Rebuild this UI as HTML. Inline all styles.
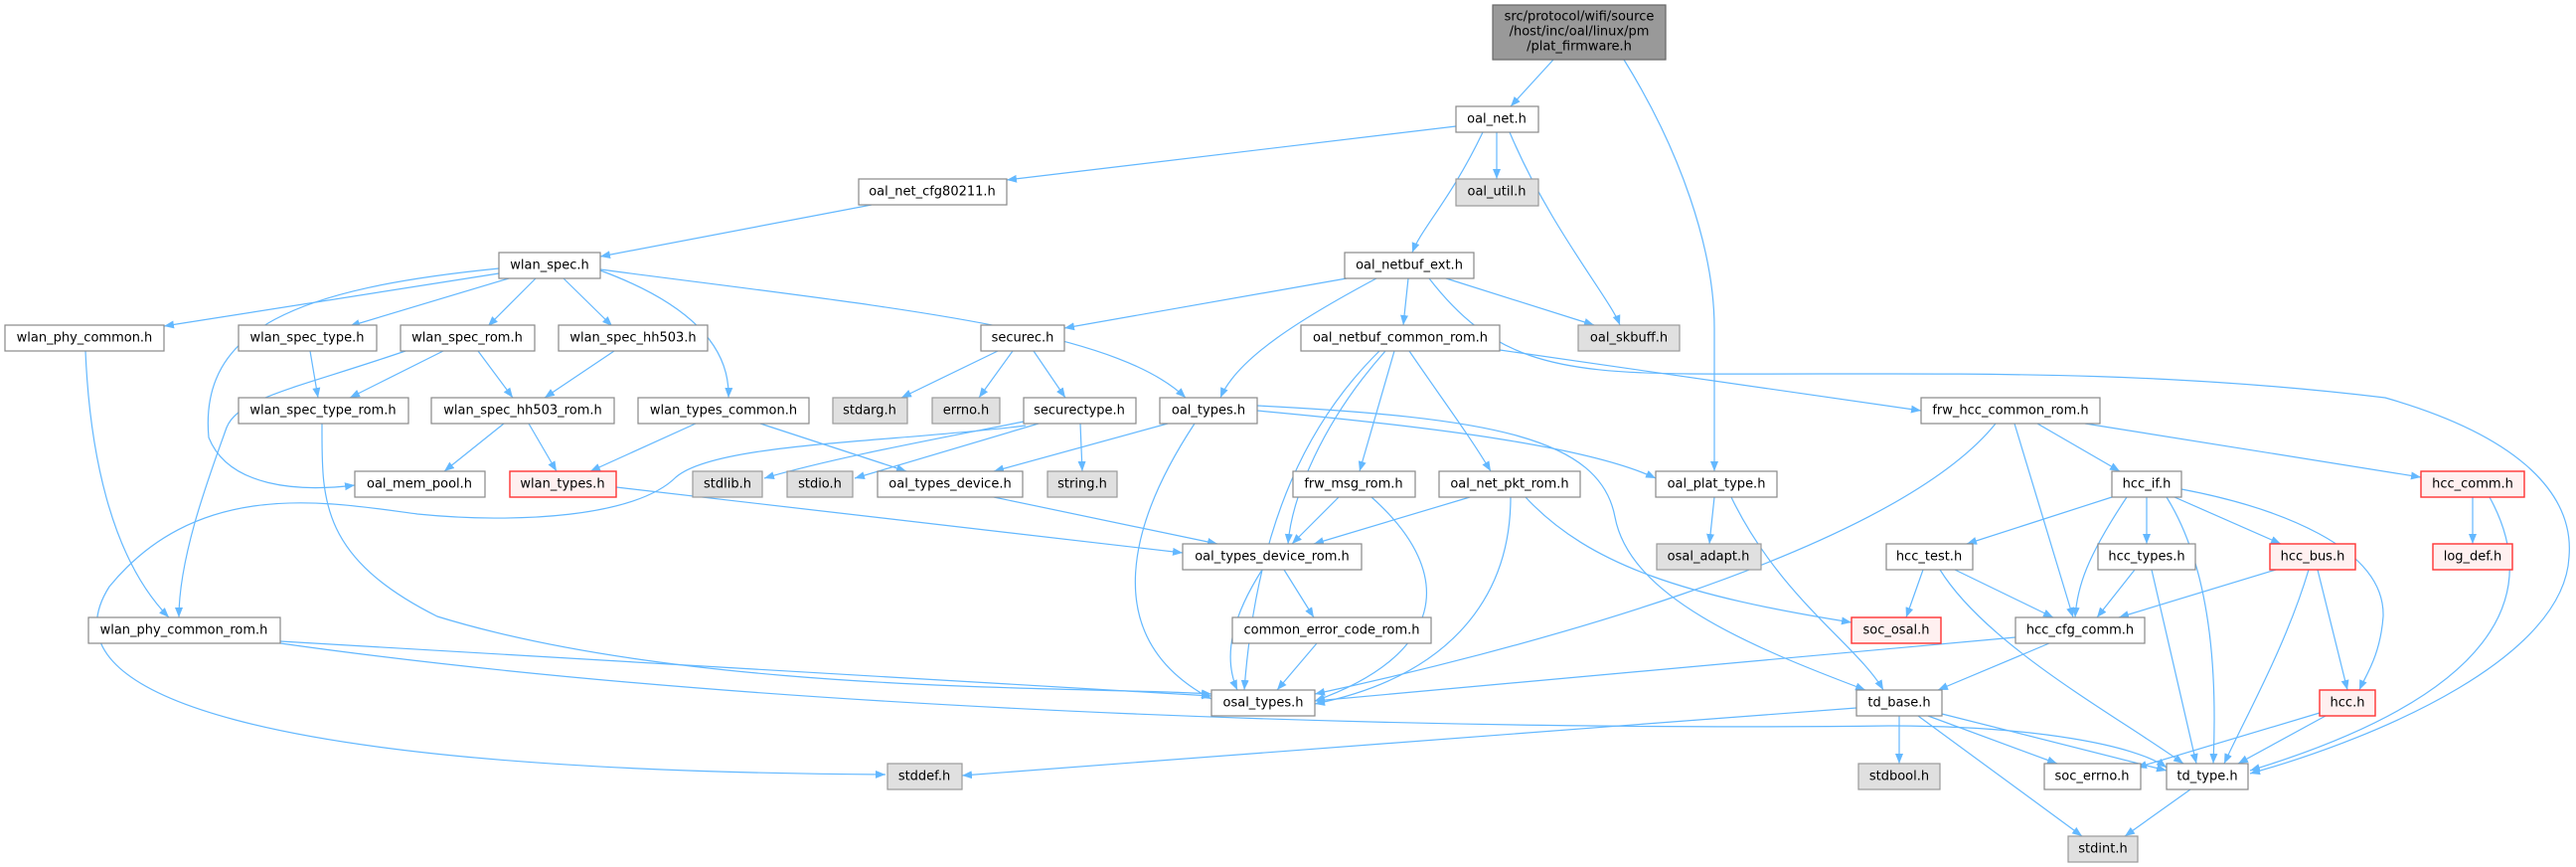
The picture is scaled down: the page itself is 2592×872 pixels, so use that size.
<!DOCTYPE html>
<html><head><meta charset="utf-8">
<style>
html,body{margin:0;padding:0;background:#fff;width:2592px;height:872px;overflow:hidden}
svg{display:block}
text{font-family:"DejaVu Sans","Liberation Sans",sans-serif;font-size:13px;fill:#000;text-anchor:middle;dominant-baseline:central}
.n{fill:#fff;stroke:#888;stroke-width:1.2}
.g{fill:#e0e0e0;stroke:#999;stroke-width:1.2}
.r{fill:#fff0f0;stroke:#f33;stroke-width:1.4}
.root{fill:#999;stroke:#666;stroke-width:1.2}
path.e{fill:none;stroke:#63b8ff;stroke-width:1.2}
</style></head><body>
<svg width="2592" height="872" viewBox="0 0 2592 872" xmlns="http://www.w3.org/2000/svg">
<defs><marker id="a" markerUnits="userSpaceOnUse" markerWidth="11" markerHeight="9" refX="10" refY="4" orient="auto"><path d="M0,0 L10,4 L0,8 z" fill="#63b8ff"/></marker></defs>
<g marker-end="url(#a)">
<path class="e" d="M1563,60 L1520,107"/>
<path class="e" d="M1634,60 C1690,150 1725,250 1725,330 L1725,474"/>
<path class="e" d="M1465,127 L1013,181"/>
<path class="e" d="M1506,133 L1506,180"/>
<path class="e" d="M1492,133 C1460,200 1430,230 1421,254"/>
<path class="e" d="M1519,133 C1560,230 1620,300 1630,327"/>
<path class="e" d="M877,206 L604,258"/>
<path class="e" d="M502,275 L165,328"/>
<path class="e" d="M512,280 L352,328"/>
<path class="e" d="M539,280 L491,328"/>
<path class="e" d="M567,280 L616,328"/>
<path class="e" d="M604,272 C680,300 735,340 733,400"/>
<path class="e" d="M604,271 C900,310 1120,330 1193,400"/>
<path class="e" d="M502,270 C300,290 200,330 210,440 C230,490 300,495 357,488"/>
<path class="e" d="M86,353 C90,450 110,560 170,621"/>
<path class="e" d="M312,353 L320,400"/>
<path class="e" d="M446,353 L352,400"/>
<path class="e" d="M481,353 L516,400"/>
<path class="e" d="M408,353 C300,390 240,400 228,430 C210,480 180,560 180,621"/>
<path class="e" d="M618,353 L548,400"/>
<path class="e" d="M324,426 C324,500 320,560 440,620 C700,700 1100,690 1219,698"/>
<path class="e" d="M507,426 L447,474"/>
<path class="e" d="M532,426 L560,474"/>
<path class="e" d="M700,426 L594,474"/>
<path class="e" d="M765,426 L912,474"/>
<path class="e" d="M1004,353 L907,400"/>
<path class="e" d="M1019,353 L985,400"/>
<path class="e" d="M1040,353 L1072,400"/>
<path class="e" d="M1030,424 C950,440 840,460 769,481"/>
<path class="e" d="M1045,426 L860,481"/>
<path class="e" d="M1087,426 L1089,474"/>
<path class="e" d="M1032,428 C900,445 720,445 680,480 C640,520 520,527 420,517 C330,505 200,480 110,590 C40,700 260,775 891,779"/>
<path class="e" d="M1175,426 L1000,474"/>
<path class="e" d="M1202,426 C1140,520 1100,640 1219,703"/>
<path class="e" d="M1265,413 C1450,430 1600,450 1666,481"/>
<path class="e" d="M1265,408 C1500,420 1610,440 1625,520 C1640,600 1760,650 1877,694"/>
<path class="e" d="M1355,280 L1071,330"/>
<path class="e" d="M1385,280 C1310,320 1245,360 1228,400"/>
<path class="e" d="M1417,280 L1412,327"/>
<path class="e" d="M1455,280 L1604,327"/>
<path class="e" d="M1438,280 C1500,360 1560,375 1700,376 C1950,377 2150,370 2400,400 C2540,440 2590,500 2585,560 C2580,660 2400,740 2264,778"/>
<path class="e" d="M1388,353 C1320,420 1265,520 1252,694"/>
<path class="e" d="M1394,353 C1330,425 1300,500 1296,547"/>
<path class="e" d="M1403,353 L1368,474"/>
<path class="e" d="M1418,353 C1450,400 1480,440 1500,474"/>
<path class="e" d="M1509,352 L1933,413"/>
<path class="e" d="M620,490 L1190,556"/>
<path class="e" d="M1000,500 L1225,547"/>
<path class="e" d="M1292,573 L1322,621"/>
<path class="e" d="M1270,573 C1240,620 1230,660 1245,694"/>
<path class="e" d="M1325,647 L1285,694"/>
<path class="e" d="M1347,500 L1300,547"/>
<path class="e" d="M1380,500 C1470,580 1450,660 1323,705"/>
<path class="e" d="M1479,500 L1322,547"/>
<path class="e" d="M1520,500 C1520,600 1460,680 1323,708"/>
<path class="e" d="M1535,500 C1600,570 1700,600 1863,626"/>
<path class="e" d="M1725,500 L1720,547"/>
<path class="e" d="M1742,500 C1790,600 1870,650 1895,694"/>
<path class="e" d="M2008,426 C1900,560 1500,660 1323,698"/>
<path class="e" d="M2027,426 L2086,621"/>
<path class="e" d="M2050,426 L2133,474"/>
<path class="e" d="M2098,426 L2436,480"/>
<path class="e" d="M2125,500 L1979,547"/>
<path class="e" d="M2140,500 C2100,560 2090,590 2088,621"/>
<path class="e" d="M2160,500 L2160,547"/>
<path class="e" d="M2180,500 C2230,580 2230,700 2227,768"/>
<path class="e" d="M2188,500 L2295,547"/>
<path class="e" d="M2195,492 C2290,510 2400,550 2398,620 C2395,660 2380,680 2374,694"/>
<path class="e" d="M2488,500 L2488,547"/>
<path class="e" d="M2505,500 C2560,600 2510,700 2264,775"/>
<path class="e" d="M1935,573 L1918,621"/>
<path class="e" d="M1967,573 L2066,621"/>
<path class="e" d="M1952,573 C2000,650 2130,720 2197,768"/>
<path class="e" d="M2148,573 L2110,621"/>
<path class="e" d="M2165,573 L2210,768"/>
<path class="e" d="M2290,573 L2132,621"/>
<path class="e" d="M2332,573 L2362,694"/>
<path class="e" d="M2323,573 C2300,650 2260,720 2238,768"/>
<path class="e" d="M2028,641 L1323,705"/>
<path class="e" d="M2062,647 L1950,694"/>
<path class="e" d="M1868,712 L968,780"/>
<path class="e" d="M1911,720 L1911,768"/>
<path class="e" d="M1940,720 L2070,768"/>
<path class="e" d="M1954,718 L2180,775"/>
<path class="e" d="M1930,720 L2095,841"/>
<path class="e" d="M2334,717 L2150,772"/>
<path class="e" d="M2340,720 L2252,768"/>
<path class="e" d="M2204,794 L2138,841"/>
<path class="e" d="M282,645 L1219,700"/>
<path class="e" d="M282,647 C800,720 1500,735 1900,730 C2050,730 2150,750 2180,772"/>
</g>
<g>
<rect class="root" x="1502" y="5" width="174" height="55"/>
<text x="1589" y="17">src/protocol/wifi/source</text>
<text x="1589" y="32">/host/inc/oal/linux/pm</text>
<text x="1589" y="47">/plat_firmware.h</text>

<rect class="n" x="1465" y="107" width="83" height="26"/><text x="1506" y="120">oal_net.h</text>
<rect class="g" x="1465" y="180" width="83" height="27"/><text x="1506" y="193">oal_util.h</text>
<rect class="n" x="864" y="180" width="149" height="26"/><text x="938" y="193">oal_net_cfg80211.h</text>
<rect class="n" x="1353" y="254" width="130" height="26"/><text x="1418" y="267">oal_netbuf_ext.h</text>
<rect class="n" x="502" y="254" width="102" height="26"/><text x="553" y="267">wlan_spec.h</text>
<rect class="n" x="5" y="327" width="160" height="26"/><text x="85" y="340">wlan_phy_common.h</text>
<rect class="n" x="240" y="327" width="139" height="26"/><text x="309" y="340">wlan_spec_type.h</text>
<rect class="n" x="403" y="327" width="135" height="26"/><text x="470" y="340">wlan_spec_rom.h</text>
<rect class="n" x="562" y="327" width="150" height="26"/><text x="637" y="340">wlan_spec_hh503.h</text>
<rect class="n" x="987" y="327" width="84" height="26"/><text x="1029" y="340">securec.h</text>
<rect class="n" x="1309" y="327" width="200" height="26"/><text x="1409" y="340">oal_netbuf_common_rom.h</text>
<rect class="g" x="1588" y="327" width="102" height="26"/><text x="1639" y="340">oal_skbuff.h</text>
<rect class="n" x="240" y="400" width="171" height="26"/><text x="325" y="413">wlan_spec_type_rom.h</text>
<rect class="n" x="434" y="400" width="184" height="26"/><text x="526" y="413">wlan_spec_hh503_rom.h</text>
<rect class="n" x="642" y="400" width="172" height="26"/><text x="728" y="413">wlan_types_common.h</text>
<rect class="g" x="838" y="400" width="75" height="26"/><text x="875" y="413">stdarg.h</text>
<rect class="g" x="938" y="400" width="68" height="26"/><text x="972" y="413">errno.h</text>
<rect class="n" x="1030" y="400" width="113" height="26"/><text x="1086" y="413">securectype.h</text>
<rect class="n" x="1167" y="400" width="98" height="26"/><text x="1216" y="413">oal_types.h</text>
<rect class="n" x="1933" y="400" width="180" height="26"/><text x="2023" y="413">frw_hcc_common_rom.h</text>
<rect class="n" x="357" y="474" width="131" height="26"/><text x="422" y="487">oal_mem_pool.h</text>
<rect class="r" x="513" y="474" width="107" height="26"/><text x="566" y="487">wlan_types.h</text>
<rect class="g" x="697" y="474" width="70" height="26"/><text x="732" y="487">stdlib.h</text>
<rect class="g" x="792" y="474" width="66" height="26"/><text x="825" y="487">stdio.h</text>
<rect class="n" x="883" y="474" width="146" height="26"/><text x="956" y="487">oal_types_device.h</text>
<rect class="g" x="1054" y="474" width="70" height="26"/><text x="1089" y="487">string.h</text>
<rect class="n" x="1301" y="474" width="123" height="26"/><text x="1362" y="487">frw_msg_rom.h</text>
<rect class="n" x="1448" y="474" width="142" height="26"/><text x="1519" y="487">oal_net_pkt_rom.h</text>
<rect class="n" x="1666" y="474" width="122" height="26"/><text x="1727" y="487">oal_plat_type.h</text>
<rect class="n" x="2125" y="474" width="70" height="26"/><text x="2160" y="487">hcc_if.h</text>
<rect class="r" x="2436" y="474" width="104" height="26"/><text x="2488" y="487">hcc_comm.h</text>
<rect class="n" x="1190" y="547" width="180" height="26"/><text x="1280" y="560">oal_types_device_rom.h</text>
<rect class="g" x="1667" y="547" width="105" height="26"/><text x="1719" y="560">osal_adapt.h</text>
<rect class="n" x="1898" y="547" width="87" height="26"/><text x="1941" y="560">hcc_test.h</text>
<rect class="n" x="2111" y="547" width="98" height="26"/><text x="2160" y="560">hcc_types.h</text>
<rect class="r" x="2284" y="547" width="86" height="26"/><text x="2327" y="560">hcc_bus.h</text>
<rect class="r" x="2448" y="547" width="80" height="26"/><text x="2488" y="560">log_def.h</text>
<rect class="n" x="89" y="621" width="193" height="26"/><text x="185" y="634">wlan_phy_common_rom.h</text>
<rect class="n" x="1240" y="621" width="200" height="26"/><text x="1340" y="634">common_error_code_rom.h</text>
<rect class="r" x="1863" y="621" width="90" height="26"/><text x="1908" y="634">soc_osal.h</text>
<rect class="n" x="2028" y="621" width="130" height="26"/><text x="2093" y="634">hcc_cfg_comm.h</text>
<rect class="n" x="1219" y="694" width="104" height="26"/><text x="1271" y="707">osal_types.h</text>
<rect class="n" x="1868" y="694" width="86" height="26"/><text x="1911" y="707">td_base.h</text>
<rect class="r" x="2334" y="694" width="56" height="26"/><text x="2362" y="707">hcc.h</text>
<rect class="g" x="893" y="768" width="75" height="26"/><text x="930" y="781">stddef.h</text>
<rect class="g" x="1870" y="768" width="82" height="26"/><text x="1911" y="781">stdbool.h</text>
<rect class="n" x="2057" y="768" width="97" height="26"/><text x="2105" y="781">soc_errno.h</text>
<rect class="n" x="2180" y="768" width="82" height="26"/><text x="2221" y="781">td_type.h</text>
<rect class="g" x="2081" y="841" width="70" height="26"/><text x="2116" y="854">stdint.h</text>
</g>
</svg>
</body></html>
